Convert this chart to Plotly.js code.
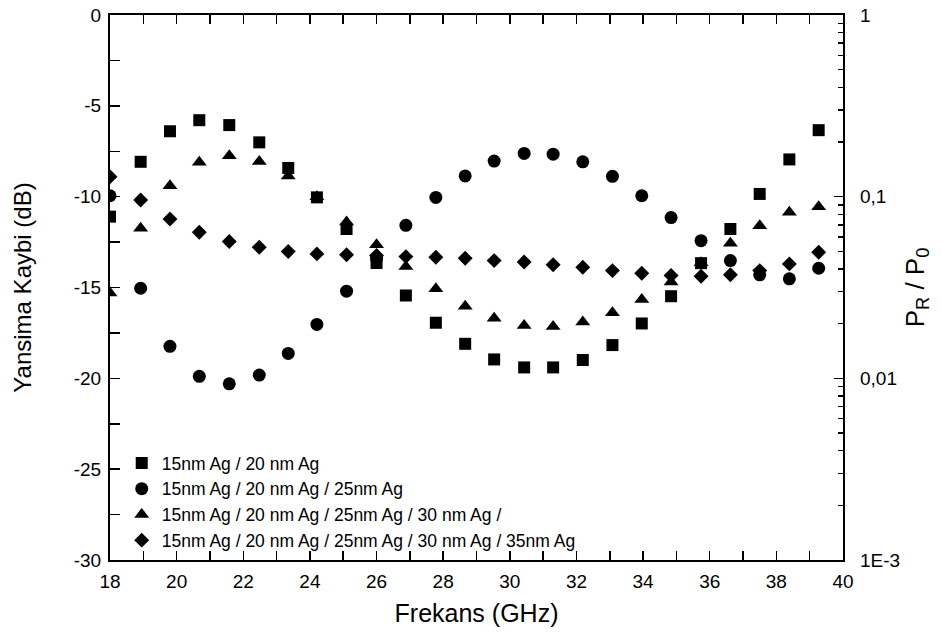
<!DOCTYPE html>
<html>
<head>
<meta charset="utf-8">
<script src="https://cdn.plot.ly/plotly-3.0.1.min.js"></script>
<style>html,body{margin:0;padding:0;background:#fff;}#chart{width:942px;height:639px;}</style>
</head>
<body>
<div id="chart"></div>
<script>
// Frequency (GHz)
const freq = [18.00, 18.92, 19.80, 20.68, 21.58, 22.48, 23.35, 24.21, 25.10, 26.00, 26.88, 27.78, 28.66,
              29.53, 30.43, 31.30, 32.19, 33.08, 33.96, 34.84, 35.74, 36.62, 37.50, 38.39, 39.27];

const seriesNames = [
  "15nm Ag / 20 nm Ag",
  "15nm Ag / 20 nm Ag / 25nm Ag",
  "15nm Ag / 20 nm Ag / 25nm Ag / 30 nm Ag /",
  "15nm Ag / 20 nm Ag / 25nm Ag / 30 nm Ag / 35nm Ag"
];

// Reflection loss (dB)
const rl2 = [-11.1, -8.08, -6.40, -5.79, -6.06, -7.01, -8.42, -10.04, -11.78, -13.65, -15.44, -16.94, -18.10,
             -18.96, -19.40, -19.40, -18.99, -18.17, -16.98, -15.48, -13.66, -11.78, -9.85, -7.95, -6.34];
const rl3 = [-9.95, -15.04, -18.24, -19.89, -20.30, -19.82, -18.63, -17.03, -15.20, -13.40, -11.58, -10.04, -8.86,
             -8.04, -7.62, -7.66, -8.08, -8.88, -9.95, -11.15, -12.42, -13.52, -14.30, -14.52, -13.94];
const rl4 = [-15.30, -11.74, -9.40, -8.11, -7.75, -8.06, -8.86, -10.00, -11.40, -12.64, -13.85, -15.07, -16.03,
             -16.69, -17.09, -17.14, -16.90, -16.39, -15.66, -14.70, -13.64, -12.56, -11.60, -10.86, -10.55];
const rl5 = [-8.90, -10.18, -11.23, -11.96, -12.47, -12.78, -13.02, -13.15, -13.20, -13.24, -13.30, -13.33, -13.39,
             -13.52, -13.60, -13.75, -13.88, -14.07, -14.21, -14.34, -14.38, -14.30, -14.07, -13.70, -13.06];

const leftTickVals = [0, -2.5, -5, -7.5, -10, -12.5, -15, -17.5, -20, -22.5, -25, -27.5, -30];
const leftTickText = ["0", "", "-5", "", "-10", "", "-15", "", "-20", "", "-25", "", "-30"];
const rightTickVals = [0.001, 0.01, 0.1, 1];
const rightTickText = ["1E-3", "0,01", "0,1", "1"];
const rightMinorVals = [0.002,0.003,0.004,0.005,0.006,0.007,0.008,0.009,
                        0.02,0.03,0.04,0.05,0.06,0.07,0.08,0.09,
                        0.2,0.3,0.4,0.5,0.6,0.7,0.8,0.9];

const FONT = "Liberation Sans, Arial, sans-serif";

const ys = [rl2, rl3, rl4, rl5];
const symbols = ["square", "circle", "triangle-up", "diamond"];
const sizes = [12, 13, 13, 11.5];

const traces = ys.map((y, i) => ({
  x: freq, y: y, type: "scatter", mode: "markers", name: seriesNames[i],
  marker: {symbol: symbols[i], size: sizes[i], color: "#000", line: {width: 0}},
  xaxis: "x", yaxis: "y"
}));
// invisible trace so the right log axis is rendered
traces.push({x: [freq[0]], y: [1], type: "scatter", mode: "markers", yaxis: "y2",
  marker: {opacity: 0}, showlegend: false, hoverinfo: "skip"});

const layout = {
  width: 942, height: 639,
  margin: {l: 110, r: 99, t: 15, b: 79},
  paper_bgcolor: "#fff", plot_bgcolor: "#fff",
  font: {family: FONT, size: 19, color: "#000"},
  showlegend: true,
  legend: {x: 0.016, y: 0.211, xanchor: "left", yanchor: "top", bgcolor: "rgba(0,0,0,0)",
           font: {family: FONT, size: 17.5, color: "#000"}, tracegroupgap: 0},
  xaxis: {
    range: [18, 40], showgrid: false, zeroline: false,
    showline: true, linecolor: "#000", linewidth: 2, mirror: "allticks",
    ticks: "inside", ticklen: 9, tickwidth: 1.5, tickcolor: "#000",
    tickmode: "linear", tick0: 18, dtick: 2,
    minor: {ticks: "inside", ticklen: 5, tickwidth: 1.5, tickcolor: "#000", dtick: 1, tick0: 18, showgrid: false},
    tickfont: {family: FONT, size: 19}, ticklabelstandoff: 3,
    title: {text: "Frekans (GHz)", font: {family: FONT, size: 25}, standoff: 14}
  },
  yaxis: {
    range: [-30, 0], showgrid: false, zeroline: false,
    showline: true, linecolor: "#000", linewidth: 2, mirror: true,
    ticks: "inside", ticklen: 10, tickwidth: 1.5, tickcolor: "#000",
    tickmode: "array", tickvals: leftTickVals, ticktext: leftTickText,
    tickfont: {family: FONT, size: 19}, ticklabelstandoff: 3,
    title: {text: "Yansima Kaybi (dB)", font: {family: FONT, size: 24}, standoff: 35}
  },
  yaxis2: {
    type: "log", range: [-3, 0], overlaying: "y", side: "right",
    showgrid: false, zeroline: false, showline: false,
    ticks: "inside", ticklen: 9, tickwidth: 1.5, tickcolor: "#000",
    tickmode: "array", tickvals: rightTickVals, ticktext: rightTickText,
    minor: {ticks: "inside", ticklen: 5, tickwidth: 1.5, tickcolor: "#000", tickmode: "array", tickvals: rightMinorVals, showgrid: false},
    tickfont: {family: FONT, size: 19}, ticklabelstandoff: 16,
    title: {text: "P<sub>R</sub> / P<sub>0</sub>", font: {family: FONT, size: 26}, standoff: 6}
  }
};

Plotly.newPlot("chart", traces, layout, {displayModeBar: false, staticPlot: true});
</script>
</body>
</html>
